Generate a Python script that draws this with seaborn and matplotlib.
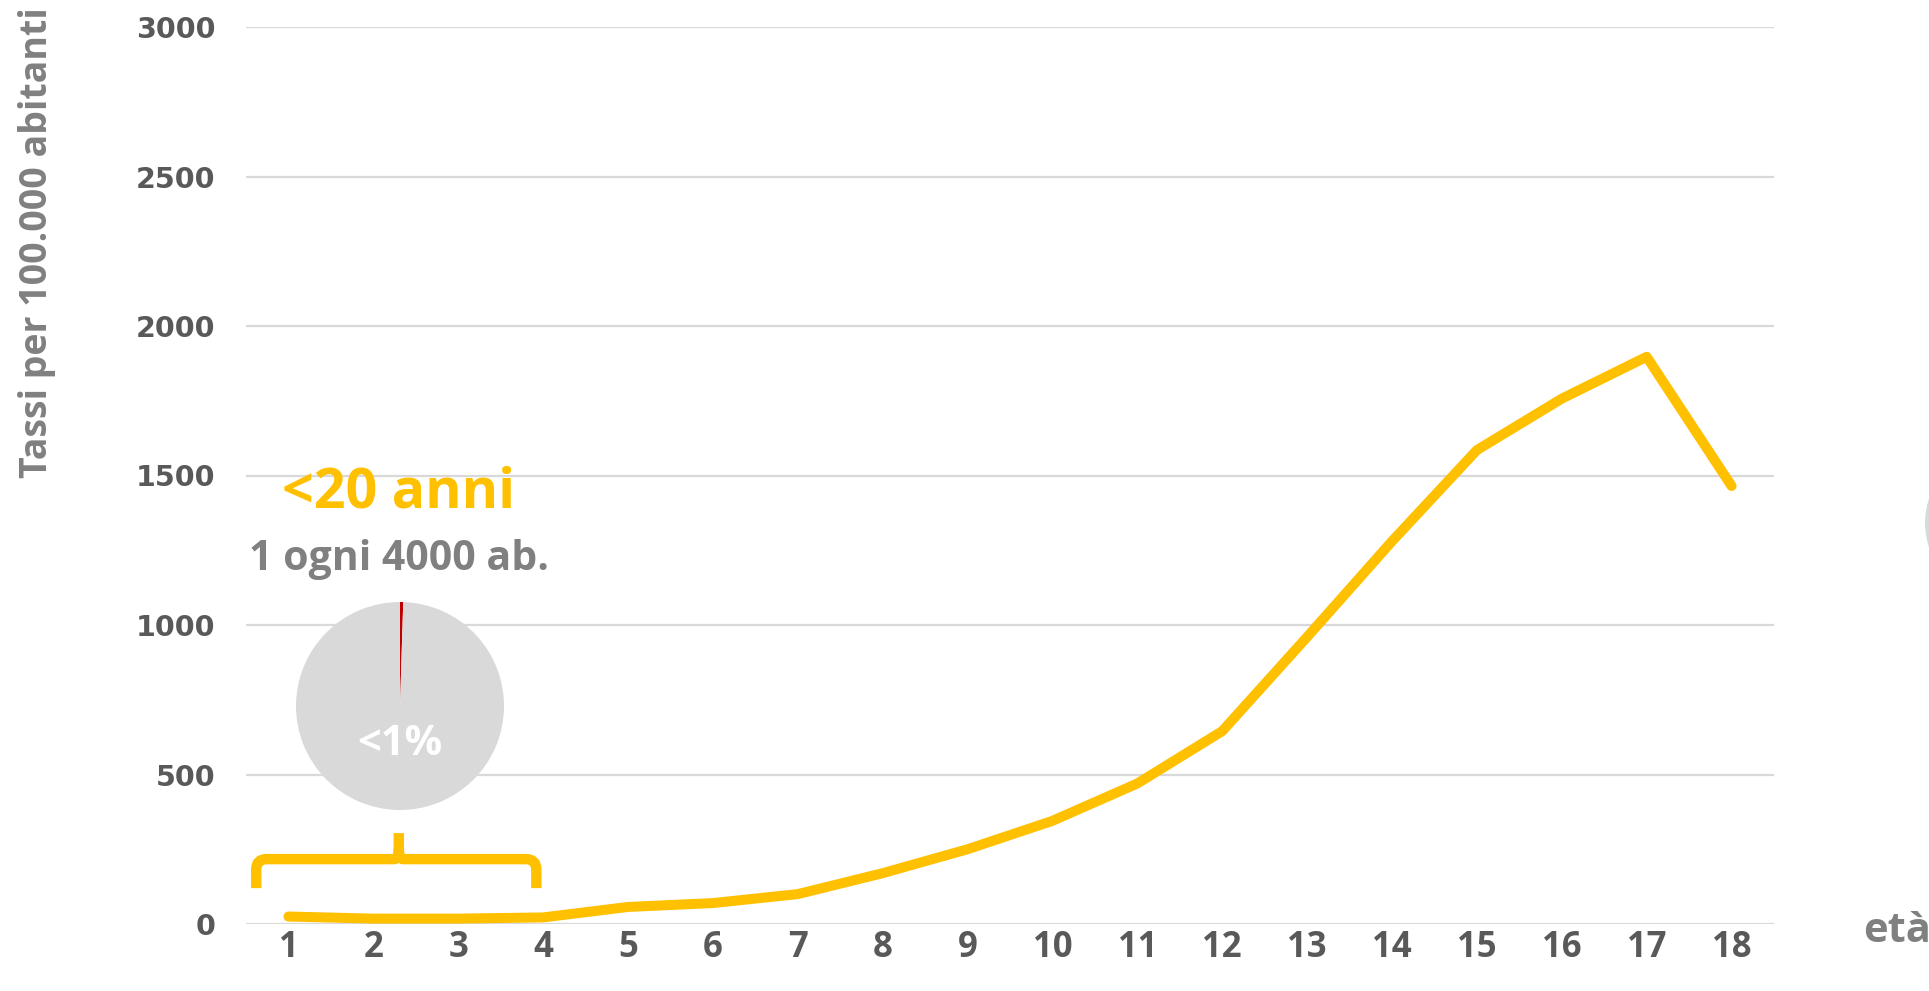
import matplotlib
matplotlib.use("Agg")
import matplotlib.pyplot as plt
import seaborn as sns
import pandas as pd
from matplotlib.patches import Circle
from matplotlib.path import Path
from matplotlib.patches import PathPatch

ages = list(range(1, 19))
rates = [25, 18, 18, 22, 57, 70, 100, 170, 250, 345, 470, 645, 960, 1280, 1585, 1757, 1897, 1465]
y_ticks = [0, 500, 1000, 1500, 2000, 2500, 3000]
pie_values = [0.5, 99.5]

sns.set_theme(style="white")
plt.rcParams["font.family"] = ["Open Sans", "DejaVu Sans"]

GOLD = "#FFC000"
GRID = "#D9D9D9"
TICK = "#595959"
GRAY = "#808080"

W, H = 1929, 991
fig = plt.figure(figsize=(W / 100, H / 100), dpi=100)
ax = fig.add_axes([246 / W, 1 - 924 / H, (1774 - 246) / W, (924 - 27) / H])

df = pd.DataFrame({"age": ages, "rate": rates})
sns.lineplot(data=df, x="age", y="rate", ax=ax, color=GOLD, lw=7.2,
             solid_capstyle="round", solid_joinstyle="round")

ax.set_xlim(0.5, 18.5)
ax.set_ylim(0, 3000)
ax.set_yticks(y_ticks)
ax.set_xticks(ages)
ax.set_yticklabels([str(v) for v in y_ticks], fontsize=20.5, fontweight="bold",
                   color=TICK, family="DejaVu Sans")
ax.set_xticklabels([str(v) for v in ages], fontsize=25, fontweight="bold", color=TICK)
ax.tick_params(axis="y", length=0, pad=22)
ax.tick_params(axis="x", length=0, pad=4)
ax.yaxis.grid(True, color=GRID, lw=1.6)
ax.xaxis.grid(False)
for s in ax.spines.values():
    s.set_visible(False)
ax.set_xlabel("")
ax.set_ylabel("")

fig.text(37 / W, 1 - 243 / H, "Tassi per 100.000 abitanti", rotation=90,
         ha="center", va="center", fontsize=27, fontweight="bold", color=GRAY)
fig.text(1897 / W, 1 - 931 / H, "età", ha="center", va="center",
         fontsize=30, fontweight="bold", color=GRAY)

# annotations
ax.text(2.3, 1440, "<20 anni", ha="center", va="center", fontsize=40,
        fontweight="bold", color=GOLD)
ax.text(2.3, 1220, "1 ogni 4000 ab.", ha="center", va="center", fontsize=29.5,
        fontweight="bold", color=GRAY)

# bracket
x0, x1, xm = 0.62, 3.92, 2.3
yt, yb, ys = 217, 120, 304
r = 0.12
verts = [(x0, yb), (x0, yt - 35), (x0, yt), (x0 + r, yt), (xm - 0.05, yt),
         (xm, yt), (xm, yt + 40), (xm, ys)]
codes = [Path.MOVETO, Path.LINETO, Path.CURVE3, Path.CURVE3, Path.LINETO,
         Path.CURVE3, Path.CURVE3, Path.LINETO]
ax.add_patch(PathPatch(Path(verts, codes), fill=False, ec=GOLD, lw=7.5,
                       capstyle="butt", joinstyle="round", clip_on=False))
verts2 = [(x1, yb), (x1, yt - 35), (x1, yt), (x1 - r, yt), (xm + 0.05, yt),
          (xm, yt), (xm, yt + 40)]
codes2 = [Path.MOVETO, Path.LINETO, Path.CURVE3, Path.CURVE3, Path.LINETO,
          Path.CURVE3, Path.CURVE3]
ax.add_patch(PathPatch(Path(verts2, codes2), fill=False, ec=GOLD, lw=7.5,
                       capstyle="butt", joinstyle="round", clip_on=False))

# pie
cx, cy, rad = 400, 706, 104
pax = fig.add_axes([(cx - rad) / W, 1 - (cy + rad) / H, 2 * rad / W, 2 * rad / H])
pax.pie(pie_values, colors=["#C00000", "#D9D9D9"], startangle=90,
        counterclock=False, radius=1.0,
        wedgeprops=dict(linewidth=0))
pax.set_xlim(-1, 1)
pax.set_ylim(-1, 1)
pax.set_aspect("equal")
pax.axis("off")
pax.text(0, -0.37, "<1%", ha="center", va="center", fontsize=30,
         fontweight="bold", color="white")

# partial circle at right edge
fig.patches.append(Circle((2000, H - 523), 75, transform=None,
                          fc="#D9D9D9", ec="none"))

fig.savefig("out.png", dpi=100)
